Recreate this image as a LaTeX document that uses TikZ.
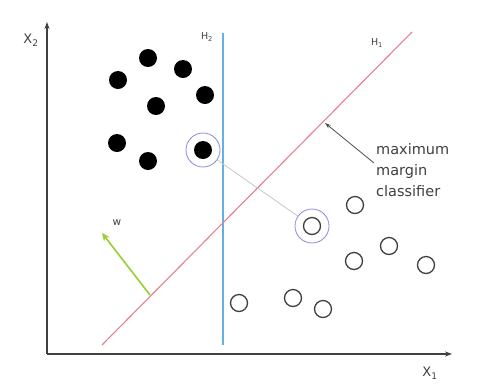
\documentclass[tikz,border=0pt]{standalone}
\usepackage{fontspec}
\setmainfont{DejaVu Sans}
\usetikzlibrary{arrows.meta}
\definecolor{honeline}{RGB}{232,128,143}
\definecolor{htwoline}{RGB}{100,175,228}
\definecolor{ringcol}{RGB}{138,138,224}
\definecolor{wgreen}{RGB}{154,205,50}
\definecolor{txtgray}{RGB}{64,64,64}
\begin{document}
\begin{tikzpicture}[x=1pt,y=-1pt,
  full/.style={circle,fill=black,inner sep=0pt,minimum size=18pt},
  open/.style={circle,draw=black!75,line width=1.3pt,inner sep=0pt,minimum size=17pt},
  ring/.style={circle,draw=ringcol,line width=0.8pt,inner sep=0pt,minimum size=34pt},
  lbl/.style={text=txtgray,font=\fontsize{13}{15}\selectfont,inner sep=0pt},
  small/.style={text=txtgray,font=\fontsize{9.5}{11}\selectfont,inner sep=0pt},
  axis/.style={draw=black!75,line width=1.2pt,-{Stealth[length=7pt,width=5pt]}}]
\useasboundingbox[fill=white] (0,0) rectangle (492,384);
% axes
\coordinate (o) at (47,354);
\coordinate (ytip) at (47,22);
\coordinate (xtip) at (452,354);
\draw[axis] (o) -- (ytip);
\draw[axis] (o) -- (xtip);
\node[lbl] (x2) at (31,40) {X\textsubscript{2}};
\node[lbl] (x1) at (430,373) {X\textsubscript{1}};
% hyperplanes
\coordinate (h2a) at (223,33);
\coordinate (h2b) at (223,345);
\draw[color=htwoline,line width=1.2pt] (h2a) -- (h2b);
\node[small] (h2l) at (207,37) {H\textsubscript{2}};
\coordinate (h1a) at (102,345);
\coordinate (h1b) at (412,32);
\draw[color=honeline,line width=1.1pt] (h1a) -- (h1b);
\node[small] (h1l) at (377,43) {H\textsubscript{1}};
% black points
\node[full] (b1) at (118,80) {};
\node[full] (b2) at (148,58) {};
\node[full] (b3) at (183,69) {};
\node[full] (b4) at (205,95) {};
\node[full] (b5) at (156,106) {};
\node[full] (b6) at (117,143) {};
\node[full] (b7) at (148,161) {};
\node[full] (bs) at (203,150) {};
\node[ring] (rb) at (203,150) {};
% open points
\node[open] (w1) at (355,205) {};
\node[open] (ws) at (312,226) {};
\node[ring] (rw) at (312,226) {};
\node[open] (w2) at (389,246) {};
\node[open] (w3) at (354,261) {};
\node[open] (w4) at (426,265) {};
\node[open] (w5) at (293,298) {};
\node[open] (w6) at (323,309) {};
\node[open] (w7) at (239,303) {};
% margin line
\draw[black!22,line width=0.8pt] (rb) -- (rw);
% annotation
\node[lbl,align=left,anchor=north west,font=\fontsize{14.5}{21}\selectfont] (mmc) at (376,143) {maximum\\margin\\classifier};
\coordinate (mmtip) at (325,123);
\coordinate (mmtail) at (374,163);
\draw[black!70,line width=0.8pt,-{Stealth[length=6pt,width=4pt]}] (mmtail) -- (mmtip);
% w vector
\coordinate (wbase) at (150,295);
\coordinate (wtip) at (102,233);
\draw[wgreen,line width=1.6pt,-{Stealth[length=8pt,width=7pt]}] (wbase) -- (wtip);
\node[small,font=\fontsize{10.5}{12}\selectfont] (wl) at (117,223) {w};
\end{tikzpicture}
\end{document}
